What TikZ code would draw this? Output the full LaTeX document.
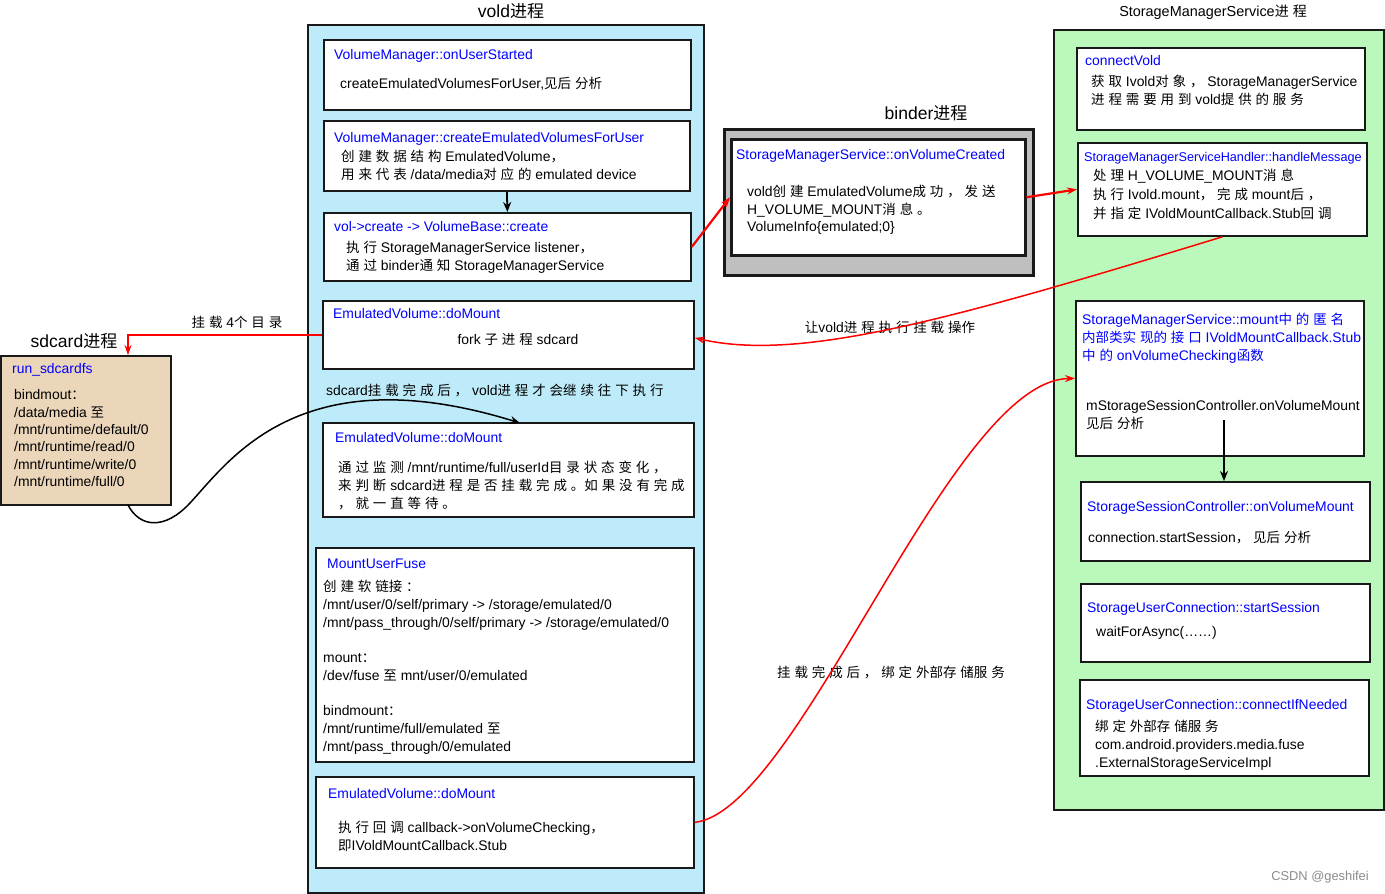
\documentclass[tikz,border=0pt]{standalone}
\usepackage{fontspec}
\setmainfont{Liberation Sans}[Scale=1.03]
\newfontfamily\cjkfont{Noto Sans CJK SC}
\usetikzlibrary{arrows.meta}
\makeatletter
\newXeTeXintercharclass\mycjk
\def\setcls#1#2{\count@=#1\relax\loop\XeTeXcharclass\count@=\mycjk\relax\ifnum\count@<#2\relax\advance\count@\@ne\repeat}
\setcls{"4E00}{"9FFF}
\setcls{"3000}{"303F}
\setcls{"FF00}{"FFEF}
\count@="21 \loop\XeTeXcharclass\count@=\z@\ifnum\count@<"7E\advance\count@\@ne\repeat
\makeatother
\XeTeXinterchartoks 0 \mycjk = {\begingroup\cjkfont}
\XeTeXinterchartoks 4095 \mycjk = {\begingroup\cjkfont}
\XeTeXinterchartoks \mycjk 0 = {\endgroup}
\XeTeXinterchartoks \mycjk 4095 = {\endgroup}
\XeTeXinterchartokenstate=1
\definecolor{voldblue}{RGB}{190,235,249}
\definecolor{smsgreen}{RGB}{187,248,187}
\definecolor{sdtan}{RGB}{235,214,186}
\definecolor{bindgray}{RGB}{191,191,191}
\begin{document}
\begin{tikzpicture}[x=1pt,y=-1pt,
  cont/.style={draw=black!90, line width=1.5pt, inner sep=0pt, anchor=north west},
  box/.style={draw=black!90, line width=1.8pt, fill=white, inner sep=0pt, anchor=north west},
  txt/.style={inner sep=0pt, anchor=north west, align=left, font=\fontsize{13.5}{18}\selectfont, execute at begin node=\strut},
  ttl/.style={txt, text=blue},
  head/.style={inner sep=0pt, anchor=center, font=\fontsize{17}{20}\selectfont},
  lbl/.style={inner sep=0pt, anchor=center, font=\fontsize{13.5}{18}\selectfont},
  redarr/.style={draw=red, line width=2.2pt, -{Stealth[length=10pt,width=7pt]}},
  redcurve/.style={draw=red, line width=1.5pt, -{Stealth[length=10pt,width=7pt]}},
  blkarr/.style={draw=black, line width=1.8pt, -{Stealth[length=10pt,width=8pt]}},
  blkcurve/.style={draw=black, line width=1.5pt, -{Stealth[length=10pt,width=8pt]}}
]
\useasboundingbox (0,0) rectangle (1385,894);
\fill[white] (0,0) rectangle (1385,894);

% ---------- containers ----------
\node[cont, fill=voldblue, minimum width=396pt, minimum height=868pt] (vold) at (307,24) {};
\node[head] (voldt) at (511,11) {vold进程};
\node[cont, fill=bindgray, line width=2.5pt, minimum width=309pt, minimum height=146pt] (binder) at (723,128) {};
\node[head] (bindt) at (926,113) {binder进程};
\node[cont, fill=smsgreen, minimum width=330pt, minimum height=780pt] (sms) at (1053,29) {};
\node[inner sep=0pt, font=\fontsize{14}{16}\selectfont] (smst) at (1213,12) {StorageManagerService进 程};
\node[cont, fill=sdtan, line width=2pt, minimum width=170pt, minimum height=149pt] (sdc) at (0,355) {};
\node[head] (sdct) at (74,341) {sdcard进程};

% ---------- vold boxes ----------
\node[box, minimum width=367pt, minimum height=70pt] (b1) at (323,39) {};
\node[ttl] (b1t) at (334,46.5) {VolumeManager::onUserStarted};
\node[txt] (b1x) at (340,75.5) {createEmulatedVolumesForUser,见后 分析};

\node[box, minimum width=366pt, minimum height=70pt] (b2) at (323,120) {};
\node[ttl] (b2t) at (334,129.5) {VolumeManager::createEmulatedVolumesForUser};
\node[txt] (b2x) at (341,149.5) {创 建 数 据 结 构 EmulatedVolume，\\用 来 代 表 /data/media对 应 的 emulated device};

\node[box, minimum width=367pt, minimum height=68pt] (b3) at (323,212) {};
\node[ttl] (b3t) at (334,218.5) {vol->create -> VolumeBase::create};
\node[txt] (b3x) at (346,240.5) {执 行 StorageManagerService listener，\\通 过 binder通 知 StorageManagerService};

\node[box, minimum width=371pt, minimum height=68pt] (b4) at (322,300) {};
\node[ttl] (b4t) at (333,305.5) {EmulatedVolume::doMount};
\node[lbl] (b4x) at (518,339) {fork 子 进 程 sdcard};

\node[txt, anchor=west] (lwait) at (326,392) {sdcard挂 载 完 成 后 ， vold进 程 才 会继 续 往 下 执 行};

\node[box, minimum width=371pt, minimum height=94pt] (b5) at (322,422) {};
\node[ttl] (b5t) at (335,429.5) {EmulatedVolume::doMount};
\node[txt, font=\fontsize{13.5}{17.8}\selectfont] (b5x) at (338,461) {通 过 监 测 /mnt/runtime/full/userId目 录 状 态 变 化 ，\\来 判 断 sdcard进 程 是 否 挂 载 完 成 。如 果 没 有 完 成\\， 就 一 直 等 待 。};

\node[box, minimum width=378pt, minimum height=214pt] (b6) at (315,547) {};
\node[ttl] (b6t) at (327,555.5) {MountUserFuse};
\node[txt, font=\fontsize{13.5}{17.75}\selectfont] (b6x) at (323,580) {创 建 软 链接 ：\\/mnt/user/0/self/primary -> /storage/emulated/0\\/mnt/pass\_through/0/self/primary -> /storage/emulated/0\\~\\mount：\\/dev/fuse 至 mnt/user/0/emulated\\~\\bindmount：\\/mnt/runtime/full/emulated 至\\/mnt/pass\_through/0/emulated};

\node[box, minimum width=378pt, minimum height=91pt] (b7) at (315,776) {};
\node[ttl] (b7t) at (328,785.5) {EmulatedVolume::doMount};
\node[txt] (b7x) at (338,820.5) {执 行 回 调 callback->onVolumeChecking，\\即IVoldMountCallback.Stub};

% ---------- binder ----------
\node[box, line width=2.5pt, minimum width=294pt, minimum height=116pt] (bi) at (730,138) {};
\node[ttl] (bit) at (736,146.5) {StorageManagerService::onVolumeCreated};
\node[txt, font=\fontsize{13.5}{17.5}\selectfont] (bix) at (747,185) {vold创 建 EmulatedVolume成 功 ， 发 送\\H\_VOLUME\_MOUNT消 息 。\\VolumeInfo\{emulated;0\}};

% ---------- StorageManagerService ----------
\node[box, minimum width=288pt, minimum height=82pt] (sa) at (1076,47) {};
\node[ttl] (sat) at (1085,52.5) {connectVold};
\node[txt] (sax) at (1091,75) {获 取 Ivold对 象 ， StorageManagerService\\进 程 需 要 用 到 vold提 供 的 服 务};

\node[box, minimum width=289pt, minimum height=93pt] (sb) at (1077,142) {};
\node[ttl, font=\fontsize{12.3}{16}\selectfont] (sbt) at (1084,150) {StorageManagerServiceHandler::handleMessage};
\node[txt, font=\fontsize{13.5}{19}\selectfont] (sbx) at (1093,169) {处 理 H\_VOLUME\_MOUNT消 息\\执 行 Ivold.mount， 完 成 mount后 ，\\并 指 定 IVoldMountCallback.Stub回 调};

\node[box, minimum width=288pt, minimum height=155pt] (sc) at (1075,300) {};
\node[ttl] (sct) at (1082,313) {StorageManagerService::mount中 的 匿 名\\内部类实 现的 接 口 IVoldMountCallback.Stub\\中 的 onVolumeChecking函数};
\node[txt, font=\fontsize{13.5}{17.5}\selectfont] (scx) at (1086,400.5) {mStorageSessionController.onVolumeMount\\见后 分析};

\node[box, minimum width=289pt, minimum height=79pt] (sd) at (1080,481) {};
\node[ttl] (sdt) at (1087,498.5) {StorageSessionController::onVolumeMount};
\node[txt] (sdx) at (1088,529.5) {connection.startSession，  见后 分析};

\node[box, minimum width=289pt, minimum height=78pt] (se) at (1080,583) {};
\node[ttl] (set) at (1087,599.5) {StorageUserConnection::startSession};
\node[txt] (sex) at (1096,623.5) {waitForAsync(……)};

\node[box, minimum width=289pt, minimum height=96pt] (sf) at (1079,679) {};
\node[ttl] (sft) at (1086,696.5) {StorageUserConnection::connectIfNeeded};
\node[txt] (sfx) at (1095,720) {绑 定 外部存 储服 务\\com.android.providers.media.fuse\\.ExternalStorageServiceImpl};

% ---------- sdcard ----------
\node[ttl] (sdct2) at (12,360.5) {run\_sdcardfs};
\node[txt, font=\fontsize{13.5}{17.4}\selectfont] (sdcx) at (14,389.5) {bindmout：\\/data/media 至\\/mnt/runtime/default/0\\/mnt/runtime/read/0\\/mnt/runtime/write/0\\/mnt/runtime/full/0};

% ---------- labels ----------
\node[lbl] (l4) at (237,322) {挂 载 4个 目 录};
\node[lbl] (lmount) at (890,327) {让vold进 程 执 行 挂 载 操作};
\node[lbl] (lbind) at (891,672) {挂 载 完 成 后 ， 绑 定 外部存 储服 务};
\node[inner sep=0pt, text=black!45, font=\fontsize{12.5}{14}\selectfont] (wm) at (1320,877) {CSDN @geshifei};

% ---------- coordinates ----------
\coordinate (sdin) at (128,355);
\coordinate (sdout) at (128,505);
\coordinate (b5in) at (520,423);
\coordinate (scdown) at (1224,420);

% ---------- connectors ----------
\draw[blkarr] (b2.south) -- (b3.north);
\draw[blkarr] (scdown) -- (scdown |- sd.north);
\draw[redarr] (b3.east) -- (bi.west);
\draw[redarr] (bi.east) -- (sb.west);
\draw[redcurve] (sb.south) .. controls (950,320) and (800,362) .. ([yshift=-3pt]b4.east);
\draw[redarr] (b4.west) -| (sdin);
\draw[blkcurve] (sdout) .. controls (140,528) and (165,530) .. (190,503) .. controls (230,460) and (300,355) .. (b5in);
\draw[redcurve] (b7.east) .. controls (800,810) and (950,380) .. (sc.west);
\end{tikzpicture}
\end{document}
